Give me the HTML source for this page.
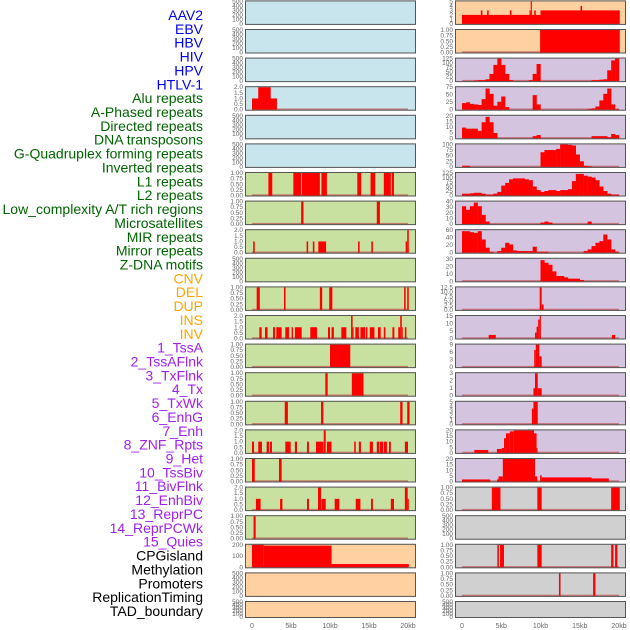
<!DOCTYPE html>
<html><head><meta charset="utf-8">
<style>
html,body{margin:0;padding:0;background:#fff;}
svg{display:block;font-family:"Liberation Sans",sans-serif;}
</style></head>
<body>
<svg id="chart" width="630" height="630" viewBox="0 0 630 630" xmlns="http://www.w3.org/2000/svg"></svg>
<script>
const trackLabels = ["AAV2","EBV","HBV","HIV","HPV","HTLV-1","Alu repeats","A-Phased repeats","Directed repeats","DNA transposons","G-Quadruplex forming repeats","Inverted repeats","L1 repeats","L2 repeats","Low_complexity A/T rich regions","Microsatellites","MIR repeats","Mirror repeats","Z-DNA motifs","CNV","DEL","DUP","INS","INV","1_TssA","2_TssAFlnk","3_TxFlnk","4_Tx","5_TxWk","6_EnhG","7_Enh","8_ZNF_Rpts","9_Het","10_TssBiv","11_BivFlnk","12_EnhBiv","13_ReprPC","14_ReprPCWk","15_Quies","CPGisland","Methylation","Promoters","ReplicationTiming","TAD_boundary"];
const labelGroups = [6,13,5,15,5];
const groupColors = ["#0000ee","#006400","#ffa500","#a020f0","#000000"];
const xTickKb = [0,5,10,15,20];
const xTickLabels = ["0","5kb","10kb","15kb","20kb"];

const ticks500 = [0,100,200,300,400,500];
const ticks1 = [0,0.25,0.5,0.75,1];
const ticks2 = [0,0.5,1,1.5,2];

const leftColors = ["#c8e4ec","#c8e4ec","#c8e4ec","#c8e4ec","#c8e4ec","#c8e4ec","#c8e0a0","#c8e0a0","#c8e0a0","#c8e0a0","#c8e0a0","#c8e0a0","#c8e0a0","#c8e0a0","#c8e0a0","#c8e0a0","#c8e0a0","#c8e0a0","#c8e0a0","#ffd0a0","#ffd0a0","#ffd0a0"];
const rightColors = ["#ffd0a0","#ffd0a0","#d4c4e0","#d4c4e0","#d4c4e0","#d4c4e0","#d4c4e0","#d4c4e0","#d4c4e0","#d4c4e0","#d4c4e0","#d4c4e0","#d4c4e0","#d4c4e0","#d4c4e0","#d4c4e0","#d4c4e0","#d0d0d0","#d0d0d0","#d0d0d0","#d0d0d0","#d0d0d0"];

const leftTicks = [ticks500,ticks500,ticks500,ticks2,ticks500,ticks500,ticks1,ticks1,ticks2,ticks500,ticks1,ticks2,ticks1,ticks1,ticks1,ticks2,ticks1,ticks2,ticks1,[0,100,200],ticks500,ticks500];
const leftMax = [500,500,500,2,500,500,1,1,2,500,1,2,1,1,1,2,1,2,1,275,500,500];
// segments: [startKb, endKb, value]
const leftSegs = [
 [],[],[],
 [[0,3.2,1],[0.8,2.4,2]],
 [],[],
 [[2.1,2.6,1],[5.3,6.3,1],[6.4,8.7,1],[8.9,9.6,1],[13.5,14.0,1],[15.2,15.8,1],[16.9,17.8,1],[17.9,18.2,1]],
 [[6.3,6.6,1],[16.0,16.4,1]],
 [[0.15,0.35,1],[7.0,7.2,1],[7.8,8.0,1],[8.5,9.5,1],[13.6,13.8,1],[15.3,15.5,1],[19.7,19.9,1],[19.9,20.1,2]],
 [],
 [[0.6,1.0,1],[4.1,4.3,1],[8.7,9.0,1],[9.9,10.3,1],[19.5,19.7,1],[19.9,20.1,1]],
 [[0.94,1.24,1],[1.67,2.0,1],[2.7,2.95,1],[3.12,3.8,1],[4.27,4.74,1],[5.08,5.26,1],[5.5,6.37,1],[7.47,8.33,1],[9.74,10.0,1],[10.2,10.5,1],[11.45,12.1,1],[12.7,12.9,2],[12.9,13.0,1],[13.25,13.7,1],[13.9,14.5,1],[14.6,14.8,1],[15.1,15.7,1],[16.15,16.5,1],[16.9,17.1,1],[18.0,18.25,1],[18.75,19.0,1],[19.0,19.2,2],[19.2,19.3,1],[19.6,19.8,1]],
 [[10.0,12.6,1]],
 [[9.4,9.7,1],[12.8,14.3,1]],
 [[4.2,4.6,1],[8.85,9.15,1],[19.0,19.3,1],[19.9,20.2,1]],
 [[0,0.26,1],[0.8,1.28,1],[1.88,2.18,1],[2.3,2.56,1],[4.27,4.96,1],[5.5,5.77,1],[7.05,7.3,1],[8.2,9.15,1],[9.2,9.45,2],[9.6,10.2,1],[13.1,13.3,1],[13.7,13.97,1],[15.1,15.5,1],[16.0,16.3,1],[16.4,16.8,1],[16.9,17.3,1],[17.56,17.8,1],[19.6,20.0,1]],
 [[0,0.35,1],[3.46,3.8,1]],
 [[0.5,1.1,1],[3.6,3.9,1],[7.05,7.3,1],[8.46,8.85,2],[8.9,9.45,1],[10.6,11.2,1],[13.3,13.9,1],[15.26,15.5,1],[17.8,18.2,1],[19.6,19.96,2],[19.96,20.1,1]],
 [[0.2,0.47,1]],
 [[0,1.5,275],[1.5,10.2,265],[10.2,20.1,40]],
 [],[]
];

const rightTicks = [[0,1,2,3,4,5],ticks1,[0,25,50,75,100,125],[0,25,50,75],[0,5,10,15,20],[0,25,50,75,100],[0,25,50,75,100,125],[0,10,20,30,40],[0,20,40,60],[0,10,20,30],[0,2.5,5,7.5,10,12.5],[0,5,10,15],[0,3,6,9],[0,1,2,3],[0,1,2,3,4,5],[0,5,10,15,20],[0,5,10,15,20],ticks1,ticks500,ticks1,ticks1,ticks500];
const rightTickText = [null,["0.00","0.25","0.50","0.75","1.00"],null,null,null,null,null,null,null,null,["0.0","2.5","5.0","7.5","10.0","12.5"],null,null,null,null,null,null,["0.00","0.25","0.50","0.75","1.00"],null,["0.00","0.25","0.50","0.75","1.00"],["0.00","0.25","0.50","0.75","1.00"],null];
const rightMax = [5,1,125,85,21,100,125,44,68,34,12.5,19,10.5,3,5,23,22,1,500,1,1,500];
// histogram bins, 0.5kb each from 0kb
const rightHist = [
 null,null,
 [0,0,0,3,5,5,10,40,90,125,90,40,5,0,0,0,0,5,40,95,0,0,0,0,0,0,0,0,0,0,0,0,0,5,5,8,10,60,115,125],
 [25,28,22,20,18,40,80,60,15,30,50,10,0,0,0,0,0,0,55,20,0,0,0,0,0,0,0,0,0,0,0,0,3,5,12,35,60,80,20,3],
 [10,9,9,9,7,15,20,15,5,0,0,0,0,0,0,0,0,0,2,3,0,0,0,0,0,0,0,0,0,0,0,0,0,2,2,2,2,1,4,3],
 [5,5,0,0,0,0,0,0,0,0,0,0,0,0,0,0,0,0,0,0,65,75,75,75,80,100,100,98,95,55,25,5,3,0,0,0,0,0,0,0],
 [10,10,12,15,15,10,5,5,10,20,55,70,90,95,95,95,90,85,50,30,20,25,30,30,25,30,30,35,80,120,120,110,105,100,85,50,25,10,5,5],
 [35,28,35,42,35,18,5,0,0,0,0,0,0,0,0,0,0,0,0,0,3,5,3,0,0,0,0,0,0,0,0,0,5,0,0,0,0,0,0,0],
 [65,65,62,60,65,40,15,3,0,5,15,30,25,7,5,5,5,5,18,3,3,3,0,0,0,0,0,0,0,0,0,5,10,20,30,35,55,40,10,3],
 [0,0,0,0,0,0,0,0,0,0,0,0,0,0,0,0,0,0,0,0,32,28,25,15,8,8,6,4,4,4,2,0,0,0,0,0,0,0,0,0],
 null,null,null,null,null,null,null,null,null,null,null,null
];
const rightSegs = [
 [[0,10.0,2],[10.0,20.1,3],[2.4,2.6,3],[3.2,3.4,3],[6.1,6.3,3],[8.6,8.75,3],[8.75,8.9,5],[9.2,9.4,3],[15.1,15.3,4]],
 [[9.95,20.1,1]],
 [],[],[],[],[],[],[],[],
 [[9.9,10.15,12.5],[10.15,10.4,3]],
 [[3.4,4.3,3],[9.3,9.5,5],[9.5,9.7,10],[9.7,9.9,16],[9.9,10.05,19],[19.1,19.5,3]],
 [[9.2,9.4,8],[9.4,9.85,10.5],[9.85,10.15,5]],
 [[9.1,9.3,1],[9.3,9.65,3],[9.65,10.15,1]],
 [[8.9,9.1,3.5],[9.1,9.65,5]],
 [[1.57,3.35,3],[4.45,5.05,4],[5.05,5.35,5],[5.35,5.6,15],[5.6,6.1,20],[6.1,6.6,22],[6.6,9.17,23],[9.17,9.5,20],[9.5,9.6,5]],
 [[0,3.6,2],[4.45,4.65,2],[4.65,5.2,5],[5.2,9.3,22],[9.3,9.6,5],[9.95,10.15,6],[10.15,16.5,4],[16.5,18.7,3]],
 [[3.8,4.9,1],[9.6,10.15,1],[19.0,20.1,1]],
 [],
 [[4.5,4.7,1],[4.85,5.35,1],[9.6,10.15,1],[19.0,19.3,1],[19.5,19.8,1]],
 [[12.35,12.55,1],[16.7,17.0,1]],
 []
];

const NS = "http://www.w3.org/2000/svg";
const svg = document.getElementById("chart");
function mk(tag, attrs, parent){
  const e = document.createElementNS(NS, tag);
  for (const k in attrs) e.setAttribute(k, attrs[k]);
  (parent||svg).appendChild(e);
  return e;
}
const cols = [{x0:245, x1:416, kb0:252, kb20:408}, {x0:455, x1:626, kb0:462, kb20:619}];
function xScale(c, kb){ return c.kb0 + (c.kb20 - c.kb0) * kb / 20; }
function rowTop(i){ return 0.4 + 28.6 * i; }
function rowH(i){ return i === 21 ? 17 : 24.5; }
function fmt(v, set){
  const maxv = set[set.length-1];
  if (maxv === 1) return v.toFixed(2);
  if (maxv === 2) return v.toFixed(1);
  return String(v);
}

let li = 0;
labelGroups.forEach((n, g) => {
  for (let k = 0; k < n; k++, li++) {
    const t = mk("text", {x:203, y:15 + li*13.86 + 5, "text-anchor":"end", "font-size":"14", fill:groupColors[g]});
    
    
    t.textContent = trackLabels[li];
  }
});

function drawPanel(ci, i, color, tks, tkText, maxv, segs, hist){
  const c = cols[ci];
  const top = rowTop(i), h = rowH(i);
  const g = mk("g", {});
  
  
  const bg = mk("rect", {x:c.x0, y:top, width:c.x1-c.x0, height:h, fill:color}, g);
  
  
  const y0 = top + h - 1, span = h - 2;
  const yS = v => y0 - Math.min(v / maxv, 1.02) * span;
  const hasData = (segs && segs.length) || hist;
  if (hasData) {
    const bl = mk("rect", {x:xScale(c,0), y:y0-1.2, width:xScale(c,20)-xScale(c,0), height:1.5, fill:"#c05050", opacity:"0.7"}, g);
    
    
  }
  if (hist) {
    hist.forEach((v, b) => {
      if (v <= 0) return;
      const xa = xScale(c, b*0.5), xb = xScale(c, (b+1)*0.5);
      const r = mk("rect", {x:xa, y:yS(v), width:xb-xa+0.2, height:y0-yS(v), fill:"#ff0000"}, g);
      
      
    });
  }
  (segs||[]).forEach(s => {
    const xa = xScale(c, s[0]), xb = xScale(c, s[1]);
    const r = mk("rect", {x:xa, y:yS(s[2]), width:Math.max(xb-xa, 1), height:y0-yS(s[2]), fill:"#ff0000"}, g);
    
    
  });
  const bd = mk("rect", {x:c.x0+0.5, y:top+0.5, width:c.x1-c.x0-1, height:h-1, fill:"none", stroke:"#555", "stroke-width":"1"}, g);
  
  
  const tmax = tks[tks.length-1];
  tks.forEach((v, k) => {
    const ty = y0 - (v / tmax) * span;
    const t = mk("text", {x:c.x0-2, y:ty+2, "text-anchor":"end", "font-size":"6.5", fill:"#666"}, g);
    
    
    t.textContent = tkText ? tkText[k] : fmt(v, tks);
  });
}
for (let i = 0; i < 22; i++) {
  drawPanel(0, i, leftColors[i], leftTicks[i], null, leftMax[i], leftSegs[i], null);
  drawPanel(1, i, rightColors[i], rightTicks[i], rightTickText[i], rightMax[i], rightSegs[i], rightHist[i]);
}
cols.forEach(c => {
  xTickKb.forEach((kb, k) => {
    const t = mk("text", {x:xScale(c, kb), y:628, "text-anchor":"middle", "font-size":"7", fill:"#666"});
    
    
    t.textContent = xTickLabels[k];
  });
});
</script>
</body></html>
